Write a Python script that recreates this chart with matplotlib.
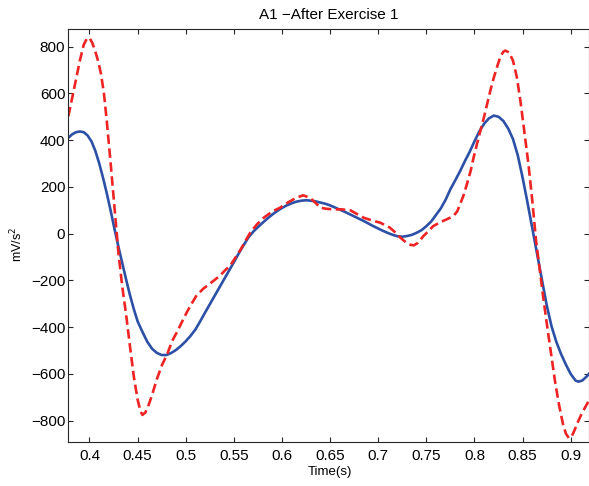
import matplotlib
matplotlib.use("Agg")
import matplotlib.pyplot as plt

plt.rcParams['font.family'] = ['Liberation Sans', 'DejaVu Sans']

title = "A1 \u2212After Exercise 1"
xlabel = "Time(s)"
ylabel = "mV/s$^2$"

blue_t = [0.378, 0.382, 0.386, 0.390, 0.394, 0.398, 0.402, 0.406, 0.410, 0.414,
          0.418, 0.422, 0.426, 0.430, 0.434, 0.438, 0.442, 0.446, 0.450, 0.455,
          0.460, 0.465, 0.470, 0.475, 0.480, 0.485, 0.490, 0.495, 0.500, 0.505,
          0.510, 0.515, 0.520, 0.525, 0.530, 0.535, 0.540, 0.545, 0.550, 0.555,
          0.560, 0.565, 0.570, 0.575, 0.580, 0.585, 0.590, 0.595, 0.600, 0.605,
          0.610, 0.615, 0.620, 0.625, 0.630, 0.635, 0.640, 0.645, 0.650, 0.655,
          0.660, 0.665, 0.670, 0.675, 0.680, 0.685, 0.690, 0.695, 0.700, 0.705,
          0.710, 0.715, 0.720, 0.725, 0.730, 0.735, 0.740, 0.745, 0.750, 0.755,
          0.760, 0.765, 0.770, 0.775, 0.780, 0.785, 0.790, 0.795, 0.800, 0.805,
          0.810, 0.815, 0.820, 0.825, 0.830, 0.835, 0.840, 0.845, 0.850, 0.855,
          0.860, 0.865, 0.870, 0.875, 0.880, 0.885, 0.890, 0.895, 0.900, 0.905,
          0.908, 0.912, 0.916, 0.920]
blue_v = [410, 425, 434, 437, 434, 420, 395, 355, 302, 240,
          172, 98, 20, -55, -125, -195, -262, -322, -375, -420,
          -462, -492, -510, -519, -519, -510, -497, -480, -460, -437,
          -410, -375, -338, -302, -266, -230, -194, -158, -122, -85,
          -50, -17, 8, 28, 47, 65, 82, 97, 110, 121,
          130, 137, 141, 143, 141, 138, 133, 128, 121, 112,
          103, 94, 84, 74, 64, 54, 43, 32, 22, 12,
          3, -5, -11, -13, -10, -5, 4, 15, 32, 52,
          80, 108, 145, 190, 228, 267, 310, 350, 395, 437,
          470, 493, 505, 500, 482, 450, 405, 335, 240, 135,
          25, -85, -195, -305, -395, -462, -515, -560, -600, -628,
          -633, -628, -613, -595]

red_t = [0.378, 0.382, 0.386, 0.390, 0.394, 0.397, 0.400, 0.403, 0.406, 0.409,
         0.412, 0.415, 0.418, 0.422, 0.426, 0.430, 0.434, 0.438, 0.442, 0.446,
         0.450, 0.453, 0.455, 0.458, 0.461, 0.465, 0.470, 0.475, 0.481, 0.486,
         0.491, 0.496, 0.501, 0.506, 0.511, 0.518, 0.525, 0.530, 0.536, 0.541,
         0.546, 0.552, 0.557, 0.563, 0.567, 0.574, 0.581, 0.590, 0.598, 0.606,
         0.615, 0.622, 0.629, 0.634, 0.640, 0.647, 0.654, 0.662, 0.671, 0.678,
         0.685, 0.694, 0.702, 0.708, 0.712, 0.717, 0.723, 0.729, 0.733, 0.737,
         0.741, 0.747, 0.752, 0.757, 0.764, 0.771, 0.778, 0.782, 0.785, 0.789,
         0.792, 0.796, 0.799, 0.803, 0.806, 0.810, 0.813, 0.817, 0.820, 0.824,
         0.827, 0.830, 0.832, 0.836, 0.840, 0.844, 0.848, 0.852, 0.856, 0.860,
         0.864, 0.868, 0.872, 0.876, 0.880, 0.884, 0.888, 0.892, 0.895, 0.898,
         0.901, 0.904, 0.908, 0.912, 0.916, 0.920]
red_v = [502, 580, 660, 740, 808, 832, 838, 815, 780, 738,
         682, 600, 480, 300, 110, -80, -225, -345, -480, -610,
         -710, -760, -775, -765, -738, -690, -622, -565, -512, -458,
         -420, -378, -337, -300, -266, -236, -214, -198, -178, -156,
         -138, -100, -68, -24, 4, 40, 68, 95, 111, 133,
         154, 164, 154, 135, 111, 106, 104, 104, 100, 84,
         68, 56, 47, 35, 26, 8, -17, -38, -47, -50,
         -40, -10, 10, 32, 48, 61, 75, 95, 125, 168,
         210, 268, 324, 390, 438, 500, 552, 620, 666, 720,
         758, 778, 783, 775, 740, 670, 560, 430, 300, 145,
         -30, -160, -290, -410, -525, -640, -735, -815, -855, -874,
         -868, -840, -800, -765, -735, -705]

xticks = [0.4, 0.45, 0.5, 0.55, 0.6, 0.65, 0.7, 0.75, 0.8, 0.85, 0.9]
xticklabels = ["0.4", "0.45", "0.5", "0.55", "0.6", "0.65", "0.7", "0.75", "0.8", "0.85", "0.9"]
yticks = [-800, -600, -400, -200, 0, 200, 400, 600, 800]

fig = plt.figure(figsize=(5.89, 4.86), dpi=100)
ax = fig.add_axes([0.116, 0.0905, 0.884, 0.8492])

ax.plot(blue_t, blue_v, color='#2c50a6', lw=1.9, solid_joinstyle='round')
ax.plot(red_t, red_v, color='#ee2424', lw=1.9, linestyle='--', dashes=(3.6, 1.7))

ax.set_xlim(0.378, 0.919)
ax.set_ylim(-891, 874)
ax.set_xticks(xticks)
ax.set_xticklabels(xticklabels)
ax.set_yticks(yticks)
ax.set_yticklabels([("\u2212" + str(-v)) if v < 0 else str(v) for v in yticks])

ax.tick_params(direction='in', length=3.6, width=0.8, colors='#262626',
               labelsize=11, top=True, right=True, labelcolor='black')
ax.tick_params(axis='y', pad=2.2)
ax.tick_params(axis='x', pad=5)
for s in ax.spines.values():
    s.set_linewidth(0.8)
    s.set_color('#262626')

ax.set_title(title, fontsize=11, pad=7.5)
ax.set_xlabel(xlabel, fontsize=9.5)
ax.xaxis.set_label_coords(0.5026, -0.058)
ax.set_ylabel(ylabel, fontsize=9)
ax.yaxis.set_label_coords(-0.083, 0.48)

fig.savefig("out.png", dpi=100)
